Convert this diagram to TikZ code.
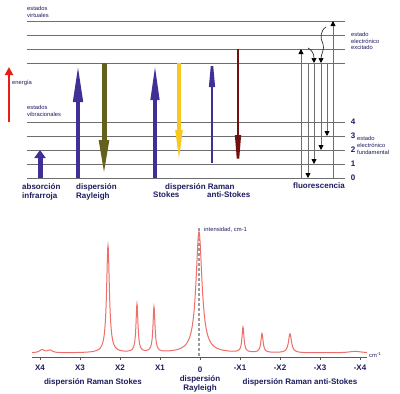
\documentclass[tikz,border=0pt]{standalone}
\usepackage{fontspec}
\setmainfont{Liberation Sans}
\usetikzlibrary{arrows.meta}
\definecolor{navy}{RGB}{30,28,95}
\definecolor{lvl}{RGB}{110,110,110}
\definecolor{ablue}{RGB}{62,48,150}
\definecolor{aolive}{RGB}{98,98,28}
\definecolor{ayellow}{RGB}{248,200,30}
\definecolor{adred}{RGB}{115,15,15}
\definecolor{ered}{RGB}{230,30,20}
\definecolor{speccol}{RGB}{238,110,105}
\tikzset{
 lev/.style={draw=lvl, line width=0.9pt},
 tinytxt/.style={text=navy, font=\fontsize{5.8}{6.8}\selectfont, inner sep=0pt, align=left},
 boldtxt/.style={text=navy, font=\bfseries\fontsize{8}{9}\selectfont, inner sep=0pt},
 fl/.style={draw=lvl, line width=0.8pt},
 fltip/.style={-{Triangle[length=5pt,width=5pt,color=black]}},
 declare function={lor(\xa,\ca,\aa,\ga)=\aa*\ga*\ga/(((\xa-\ca)/10)^2+\ga*\ga);
   specy(\xb)=353-lor(\xb,199,121,0.36)-lor(\xb,108,107,0.17)-lor(\xb,137,48,0.12)
     -lor(\xb,154,45,0.12)-lor(\xb,243,25,0.12)-lor(\xb,262,19,0.13)-lor(\xb,290,19,0.18)
     -lor(\xb,42,3,0.3)-lor(\xb,50,2.5,0.3)-lor(\xb,355,1.5,0.8);}
}
\begin{document}
\begin{tikzpicture}[x=1pt,y=-1pt]
\useasboundingbox (0,0) rectangle (400,394);
\fill[white] (0,0) rectangle (400,394);

% energy levels
\foreach \yy in {21,35,49,63,122,136,150,164,178}
  \draw[lev] (27,\yy) -- (345,\yy);

% level labels
\node[tinytxt, anchor=north west] (virt) at (27,6) {estados\\virtuales};
\node[tinytxt, anchor=north west] (vib) at (27,105) {estados\\vibracionales};
\node[tinytxt, anchor=west] (exc) at (351,41) {estado\\electrónico\\excitado};
\node[tinytxt, anchor=west] (fund) at (357,145.5) {estado\\electrónico\\fundamental};
\node[tinytxt, anchor=west] (ener) at (12,83) {energía};
\foreach \nn/\yy in {4/122,3/136,2/150,1/164,0/178}
  \node[boldtxt] (n\nn) at (353,\yy) {\nn};

% energy arrow
\draw[ered, line width=1.8pt, -{Triangle[length=8pt,width=8pt]}] (9,122) -- (9,67);

% absorption
\draw[ablue, line width=5pt, -{Triangle[length=8pt,width=11pt]}] (40,178) -- (40,150);
% Rayleigh
\draw[ablue, line width=4.5pt, -{Triangle[length=39pt,width=9pt]}] (78,178) -- (78,63);
\draw[aolive, line width=5pt, -{Triangle[length=38pt,width=9pt]}] (104,63) -- (104,178);
% Stokes
\draw[ablue, line width=4pt, -{Triangle[length=37pt,width=8pt]}] (155,178) -- (155,63);
\draw[ayellow, line width=3.5pt, -{Triangle[length=33pt,width=6.5pt]}] (179,63) -- (179,163);
% anti-Stokes
\draw[ablue, line width=2.5pt, -{Triangle[length=38pt,width=5.5pt]}] (212,163) -- (212,49);
\draw[adred, line width=2.5pt, -{Triangle[length=43pt,width=5.5pt]}] (238,49) -- (238,178);

% fluorescence
\draw[fl, fltip] (301,178) -- (301,49);
\draw[fl, fltip] (333,178) -- (333,21);
\draw[fl, fltip] (308,63) -- (308,178);
\draw[fl, fltip] (314,63) -- (314,164);
\draw[fl, fltip] (321,63) -- (321,150);
\draw[fl, fltip] (327,63) -- (327,136);
\draw[black!80, line width=0.7pt, fltip] (326,27) .. controls (320,31) and (320,38) .. (323,44) .. controls (325,49) and (321,54) .. (321,63);
\draw[black!80, line width=0.7pt, fltip] (308,48) .. controls (312,50) and (314,54) .. (314,63);

% process labels
\node[boldtxt, anchor=north west, align=left] (labA) at (22,183) {absorción\\infrarroja};
\node[boldtxt, anchor=north west, align=left] (labR) at (76,183) {dispersión\\Rayleigh};
\node[boldtxt, anchor=north west] (labRa) at (165,183) {dispersión Raman};
\node[boldtxt, anchor=north west] (labS) at (153,192) {Stokes};
\node[boldtxt, anchor=north west] (labAS) at (207,192) {anti-Stokes};
\node[boldtxt, anchor=north] (labF) at (319,183) {fluorescencia};

% spectrum
\draw[lvl!80!black, line width=0.8pt] (32,357) -- (367,357);
\foreach \xx in {40,80,...,360}
  \draw[lvl!80!black, line width=0.8pt] (\xx,357) -- (\xx,360);
\draw[lvl!70, line width=1.3pt, dash pattern=on 3pt off 2pt] (199,228) -- (199,357);
\draw[speccol, line width=1pt] plot[domain=32:367, samples=1341] (\x,{specy(\x)});

\node[tinytxt, anchor=west] (inten) at (204,230) {intensidad, cm-1};
\node[tinytxt, anchor=west] (cmu) at (369,355) {cm\raisebox{2pt}{\fontsize{4.5}{5}\selectfont -1}};

\foreach \lab/\xx in {X4/40,X3/80,X2/120,X1/160,-X1/240,-X2/280,-X3/320,-X4/360}
  \node[boldtxt] (t\xx) at (\xx,368) {\lab};
\node[boldtxt] (t0) at (200,370) {0};
\node[boldtxt, align=center, anchor=north] (rayl) at (200,375) {dispersión\\Rayleigh};
\node[boldtxt] (stk) at (93,382) {dispersión Raman Stokes};
\node[boldtxt] (ast) at (300,382) {dispersión Raman anti-Stokes};
\end{tikzpicture}
\end{document}
